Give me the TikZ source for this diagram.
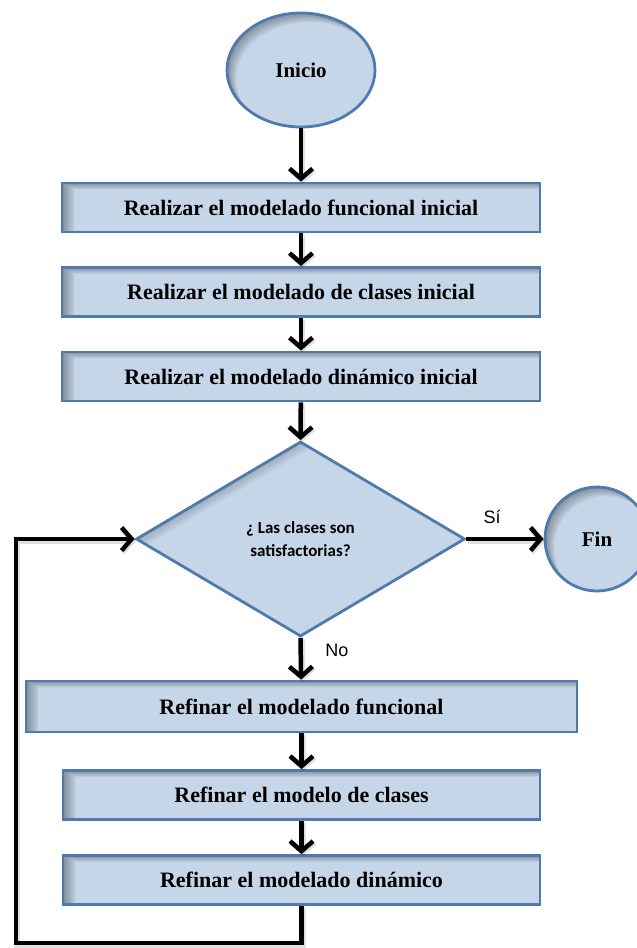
\documentclass[tikz,border=0pt]{standalone}
\usepackage{fontspec}
\setmainfont{Liberation Serif}
\newfontfamily\calfont{Carlito}
\newfontfamily\arialfont{Liberation Sans}
\usetikzlibrary{arrows.meta,shapes.geometric}
\definecolor{boxfill}{HTML}{C5D6E8}
\definecolor{boxedge}{HTML}{4F7AAE}
\tikzset{
  % soft inner shadow along the left and top edges of a rectangle
  stepbox/.style={draw=boxedge, line width=2.8pt, fill=boxfill,
    minimum width=#1, minimum height=49pt, inner sep=0pt,
    font=\bfseries\fontsize{22}{24}\selectfont,
    path picture={
      \foreach \k in {1,...,7}
        \fill[black, opacity=0.05, even odd rule]
          ([shift={(-20pt,20pt)}]path picture bounding box.north west) rectangle
          ([shift={(20pt,-20pt)}]path picture bounding box.south east)
          ([shift={(1.8*\k pt,-0.9*\k pt)}]path picture bounding box.north west) rectangle
          ([shift={(40pt,-40pt)}]path picture bounding box.south east);
    }},
  terminal/.style={draw=boxedge, line width=2.8pt, fill=boxfill, inner sep=0pt,
    font=\bfseries\fontsize{21}{24}\selectfont},
  decision/.style={diamond, draw=boxedge, line width=2.8pt, fill=boxfill,
    inner sep=0pt, align=center, font=\calfont\bfseries\fontsize{17}{23}\selectfont,
    path picture={
      \foreach \k in {1,...,6}
        \fill[black, opacity=0.03, even odd rule]
          ([shift={(-20pt,20pt)}]path picture bounding box.north west) rectangle
          ([shift={(20pt,-20pt)}]path picture bounding box.south east)
          ([shift={(1.8*\k pt,-1*\k pt)}]path picture bounding box.north) --
          ([shift={(1.8*\k pt,-1*\k pt)}]path picture bounding box.east) --
          ([shift={(1.8*\k pt,-1*\k pt)}]path picture bounding box.south) --
          ([shift={(1.8*\k pt,-1*\k pt)}]path picture bounding box.west) -- cycle;
    }},
  conn/.style={line width=4.5pt, line join=miter,
    -{Straight Barb[length=10pt, width=23pt]},
    preaction={draw=black, opacity=0.12, line width=5.5pt,
      transform canvas={shift={(1.5pt,-2pt)}}}},
  lbl/.style={font=\arialfont\fontsize{18}{20}\selectfont, inner sep=0pt},
}
\begin{document}
\begin{tikzpicture}[x=1pt, y=-1pt]
\useasboundingbox (0,0) rectangle (637,948);

% start and end terminals with a soft inner shadow
\node[terminal, ellipse, minimum width=148pt, minimum height=114pt,
  path picture={
    \foreach \k in {1,...,7}
      \fill[black, opacity=0.05, even odd rule]
        ([shift={(-20pt,20pt)}]path picture bounding box.north west) rectangle
        ([shift={(20pt,-20pt)}]path picture bounding box.south east)
        ([shift={(1.3*\k pt,-1.3*\k pt)}]path picture bounding box.center)
        ellipse [x radius=74pt, y radius=57pt];
  }] (start) at (301,70) {Inicio};

\node[terminal, circle, minimum size=104pt,
  path picture={
    \foreach \k in {1,...,7}
      \fill[black, opacity=0.05, even odd rule]
        ([shift={(-20pt,20pt)}]path picture bounding box.north west) rectangle
        ([shift={(20pt,-20pt)}]path picture bounding box.south east)
        ([shift={(1.3*\k pt,-1.3*\k pt)}]path picture bounding box.center)
        circle [radius=52pt];
  }] (fin) at (597,539) {Fin};

% process steps
\node[stepbox=478pt] (r1) at (301,207.5) {Realizar el modelado funcional inicial};
\node[stepbox=478pt] (r2) at (301,292) {Realizar el modelado de clases inicial};
\node[stepbox=478pt] (r3) at (301,376.5) {Realizar el modelado dinámico inicial};

\node[decision, minimum width=329pt, minimum height=195pt] (dec) at (300.5,539)
  {¿ Las clases son\\satisfactorias?};

\node[stepbox=551pt, minimum height=51pt] (f1) at (301.5,706.5) {Refinar el modelado funcional};
\node[stepbox=477pt] (f2) at (301.5,795) {Refinar el modelo de clases};
\node[stepbox=477pt] (f3) at (301.5,880) {Refinar el modelado dinámico};

% connectors
\draw[conn] (start) -- (r1);
\draw[conn] (r1) -- (r2);
\draw[conn] (r2) -- (r3);
\draw[conn] (r3) -- (dec.north);
\draw[conn] (dec.east) -- (fin);
\draw[conn] (dec.south) -- (f1);
\draw[conn] (f1) -- (f2);
\draw[conn] (f2) -- (f3);

\coordinate (loopcorner) at (16,943);
\draw[conn] (f3.south) |- (loopcorner) |- (dec.west);

% branch labels
\node[lbl] (si) at (492,517) {Sí};
\node[lbl] (no) at (337,650) {No};
\end{tikzpicture}
\end{document}
